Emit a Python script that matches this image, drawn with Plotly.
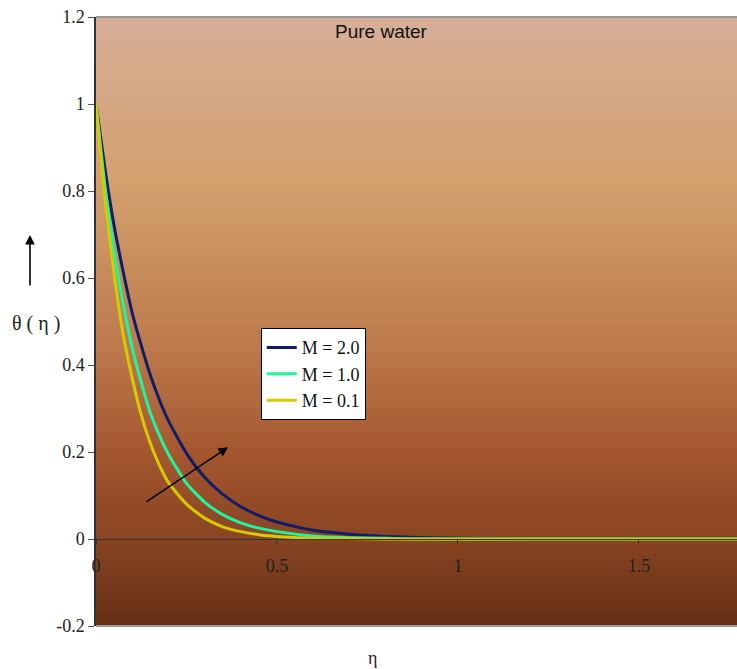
import plotly.graph_objects as go

# ---- data ----
eta = [0, 0.025, 0.05, 0.075, 0.1, 0.125, 0.15, 0.175, 0.2, 0.25, 0.3, 0.35, 0.4,
       0.45, 0.5, 0.6, 0.7, 0.8, 0.9, 1.0, 1.2, 1.4, 1.6, 1.8]
theta_M20 = [1.0, 0.85, 0.72, 0.615, 0.52, 0.445, 0.377, 0.32, 0.272, 0.197, 0.142,
             0.103, 0.074, 0.054, 0.039, 0.02, 0.011, 0.006, 0.003, 0.0015, 0.0, 0.0, 0.0, 0.0]
theta_M10 = [1.0, 0.81, 0.66, 0.54, 0.44, 0.36, 0.29, 0.238, 0.195, 0.128, 0.085,
             0.056, 0.037, 0.025, 0.017, 0.007, 0.003, 0.0015, 0.0, 0.0, 0.0, 0.0, 0.0, 0.0]
theta_M01 = [1.0, 0.78, 0.61, 0.47, 0.37, 0.285, 0.22, 0.17, 0.13, 0.08, 0.048,
             0.028, 0.017, 0.01, 0.006, 0.002, 0.001, 0.0, 0.0, 0.0, 0.0, 0.0, 0.0, 0.0]
series_names = ["M = 2.0", "M = 1.0", "M = 0.1"]
series_colors = ["#101E6A", "#1EF59C", "#D6CA00"]
x_tickvals = [0, 0.5, 1, 1.5]
x_ticktext = ["0", "0.5", "1", "1.5"]
y_tickvals = [-0.2, 0, 0.2, 0.4, 0.6, 0.8, 1.0, 1.2]
y_ticktext = ["-0.2", "0", "0.2", "0.4", "0.6", "0.8", "1", "1.2"]

fig = go.Figure()
for name, ys, col in zip(series_names, [theta_M20, theta_M10, theta_M01], series_colors):
    fig.add_trace(go.Scatter(x=eta, y=ys, mode="lines", name=name,
                             line=dict(color=col, width=3, shape="spline", smoothing=0.6)))

# ---- background gradient (stripes) ----
stops = [(0.0, (214, 174, 152)), (0.27, (211, 160, 110)), (0.53, (190, 124, 78)),
         (0.72, (164, 86, 46)), (0.86, (136, 68, 34)), (1.0, (102, 48, 22))]

def col_at(t):
    for (t0, c0), (t1, c1) in zip(stops[:-1], stops[1:]):
        if t0 <= t <= t1:
            f = (t - t0) / (t1 - t0)
            return "rgb(%d,%d,%d)" % tuple(round(a + (b - a) * f) for a, b in zip(c0, c1))
    return "rgb(%d,%d,%d)" % stops[-1][1]

shapes = []
N = 120
for i in range(N):
    t = (i + 0.5) / N
    shapes.append(dict(type="rect", xref="x domain", yref="y domain",
                       x0=0, x1=1, y0=1 - (i + 1) / N - 0.001, y1=1 - i / N + 0.001,
                       fillcolor=col_at(t), line=dict(width=0), layer="below"))
# borders
shapes.append(dict(type="line", xref="x domain", yref="y domain", x0=0, x1=1, y0=1, y1=1,
                   line=dict(color="#9a9a9a", width=2), layer="above"))
shapes.append(dict(type="line", xref="x domain", yref="y domain", x0=0, x1=1, y0=0, y1=0,
                   line=dict(color="#9a9a9a", width=2), layer="above"))

serif = "Liberation Serif, Times New Roman, serif"
annotations = [
    dict(text="Pure water", xref="x domain", yref="y domain", x=0.446, y=0.977,
         xanchor="center", yanchor="middle",
         showarrow=False, font=dict(family="Liberation Sans, Arial, sans-serif", size=19, color="#111")),
    dict(text="θ ( η )", xref="paper", yref="paper", x=-0.094, y=0.4975,
         xanchor="center", yanchor="middle",
         showarrow=False, font=dict(family=serif, size=20, color="#222")),
    dict(text="η", xref="paper", yref="paper", x=0.4306, y=-0.052,
         xanchor="center", yanchor="middle",
         showarrow=False, font=dict(family=serif, size=18, color="#222")),
    dict(text="", xref="paper", yref="paper", x=-0.103, y=0.642, ax=0, ay=52,
         showarrow=True, arrowhead=2, arrowsize=1.2, arrowwidth=1.6, arrowcolor="black"),
    dict(text="", xref="x", yref="y", x=0.365, y=0.211, axref="x", ayref="y",
         ax=0.135, ay=0.083, showarrow=True, arrowhead=2, arrowsize=1.2,
         arrowwidth=1.6, arrowcolor="black"),
]

fig.update_layout(
    width=737, height=669,
    margin=dict(l=96, r=0, t=17, b=43),
    paper_bgcolor="white", plot_bgcolor="white",
    shapes=shapes, annotations=annotations,
    showlegend=True,
    legend=dict(x=0.257, y=0.489, xanchor="left", yanchor="top",
                bgcolor="white", bordercolor="black", borderwidth=1,
                font=dict(family=serif, size=18, color="#111"),
                tracegroupgap=0, itemwidth=30),
    xaxis=dict(range=[0, 1.771], tickvals=x_tickvals, ticktext=x_ticktext,
               anchor="free", position=0.2 / 1.4, showline=True, linecolor="#333",
               linewidth=1, ticks="outside", ticklen=4, tickcolor="#333",
               showgrid=False, zeroline=False, ticklabelstandoff=6,
               tickfont=dict(family=serif, size=18, color="#222")),
    yaxis=dict(range=[-0.2, 1.2], tickvals=y_tickvals, ticktext=y_ticktext,
               showline=True, linecolor="#333", linewidth=1.5, ticks="outside",
               ticklen=6, tickcolor="#555", showgrid=False, zeroline=False,
               tickfont=dict(family=serif, size=18, color="#222")),
)

fig.write_html("out.html", config={"displayModeBar": False},
               post_script="document.body.style.margin='0';document.body.style.overflow='hidden';")
